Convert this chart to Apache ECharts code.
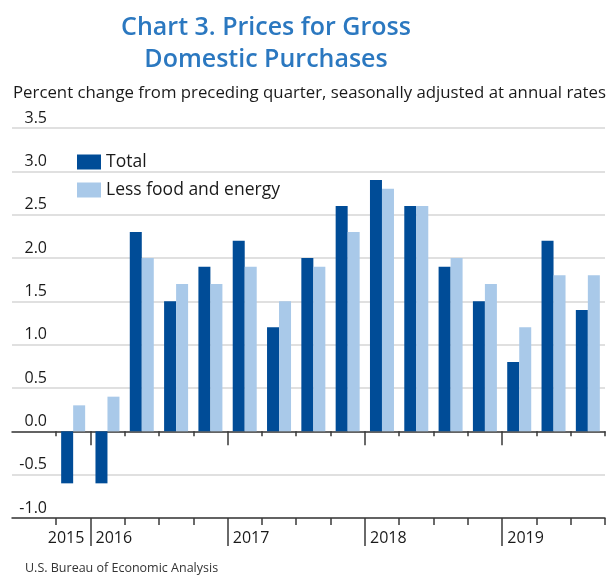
<!DOCTYPE html>
<html>
<head>
<meta charset="UTF-8">
<title>Chart 3. Prices for Gross Domestic Purchases</title>
<script src="https://cdn.jsdelivr.net/npm/echarts@6/dist/echarts.min.js"></script>
<style>
html, body { margin: 0; padding: 0; background: #fff; }
#main { width: 615px; height: 576px; }
</style>
</head>
<body>
<div id="main"></div>
<script type="text/javascript">
// quarters on the chart, one bar pair each
var quarters = ['2015 Q4', '2016 Q1', '2016 Q2', '2016 Q3', '2016 Q4', '2017 Q1', '2017 Q2', '2017 Q3',
                '2017 Q4', '2018 Q1', '2018 Q2', '2018 Q3', '2018 Q4', '2019 Q1', '2019 Q2', '2019 Q3'];
var totalValues = [-0.6, -0.6, 2.3, 1.5, 1.9, 2.2, 1.2, 2.0, 2.6, 2.9, 2.6, 1.9, 1.5, 0.8, 2.2, 1.4];
var lessFoodEnergy = [0.3, 0.4, 2.0, 1.7, 1.7, 1.9, 1.5, 1.9, 2.3, 2.8, 2.6, 2.0, 1.7, 1.2, 1.8, 1.8];
var yTicks = [-1.0, -0.5, 0.0, 0.5, 1.0, 1.5, 2.0, 2.5, 3.0, 3.5];
var seriesNames = ['Total', 'Less food and energy'];

var FONT = 'Open Sans';
var darkBlue = '#004c97';
var lightBlue = '#a9c9e9';

// boundaries between quarters (one more than quarters)
var boundaries = quarters.concat(['end']);

function isYearStart(index) {
	if (index <= 0 || index >= quarters.length) return false;
	return quarters[index].slice(0, 4) !== quarters[index - 1].slice(0, 4);
}

function yearLabel(value, index) {
	if (!isYearStart(index)) return '';
	var y = quarters[index].slice(0, 4);
	if (index === 1) {
		// first year only has one quarter: its label sits left of the divider
		return '{y|' + quarters[0].slice(0, 4) + '}{gap|}{y|' + y + '}';
	}
	return '{pad|}{y|' + y + '}';
}

var yMin = yTicks[0], yMax = yTicks[yTicks.length - 1];
var gridTop = 128, gridBottom = 58;

var myChart = echarts.init(document.getElementById('main'));
var option = {
	animation: false,
	backgroundColor: '#fff',
	title: [{
		text: 'Chart 3. Prices for Gross\nDomestic Purchases',
		left: 261,
		top: 7,
		textAlign: 'center',
		textStyle: { fontFamily: FONT, fontSize: 25, fontWeight: 600, color: '#2b78c0', lineHeight: 32 }
	}, {
		text: 'Percent change from preceding quarter, seasonally adjusted at annual rates',
		left: 8,
		top: 80,
		textStyle: { fontFamily: FONT, fontSize: 16.8, fontWeight: 'normal', color: '#1a1a1a' }
	}, {
		text: 'U.S. Bureau of Economic Analysis',
		left: 20,
		top: 557,
		textStyle: { fontFamily: FONT, fontSize: 12.5, fontWeight: 'normal', color: '#333' }
	}],
	legend: {
		orient: 'vertical',
		left: 72,
		top: 148,
		itemWidth: 24,
		itemHeight: 15,
		itemGap: 10,
		icon: 'rect',
		data: seriesNames,
		textStyle: { fontFamily: FONT, fontSize: 17.5, color: '#1a1a1a' }
	},
	grid: [
		{ left: 12, right: 10, top: gridTop, bottom: gridBottom },
		{ left: 56, right: 10, top: gridTop, bottom: gridBottom }
	],
	yAxis: [{
		gridIndex: 0,
		type: 'value',
		min: yMin, max: yMax, interval: 0.5,
		axisLine: { show: false },
		axisTick: { show: false },
		splitLine: { lineStyle: { color: '#d6d6d6', width: 1.5 } },
		axisLabel: {
			inside: true, margin: 35, align: 'right', verticalAlign: 'bottom',
			padding: [0, 0, 2, 0],
			fontFamily: FONT, fontSize: 16, color: '#1a1a1a',
			formatter: function (v) { return v.toFixed(1); }
		}
	}, {
		gridIndex: 1,
		type: 'value',
		min: yMin, max: yMax, interval: 0.5,
		show: false
	}],
	xAxis: [{
		// zero line across the full width
		gridIndex: 0, type: 'value', min: 0, max: 1, position: 'bottom',
		axisLine: { onZero: true, onZeroAxisIndex: 0, lineStyle: { color: '#3a3a3a', width: 1.5 } },
		axisTick: { show: false }, axisLabel: { show: false }, splitLine: { show: false }
	}, {
		// bottom line across the full width
		gridIndex: 0, type: 'value', min: 0, max: 1, position: 'bottom',
		axisLine: { onZero: false, lineStyle: { color: '#3a3a3a', width: 1.5 } },
		axisTick: { show: false }, axisLabel: { show: false }, splitLine: { show: false }
	}, {
		// bar axis, short ticks on the zero line
		gridIndex: 1, type: 'category', data: quarters, boundaryGap: true, position: 'bottom',
		axisLine: { show: false, onZero: true, onZeroAxisIndex: 1 },
		axisTick: { show: true, interval: 0, length: 5, lineStyle: { color: '#3a3a3a', width: 1.5 } },
		axisLabel: { show: false }
	}, {
		// year dividers on the zero line
		gridIndex: 1, type: 'category', data: boundaries, boundaryGap: false, position: 'bottom',
		axisLine: { show: false, onZero: true, onZeroAxisIndex: 1 },
		axisTick: { show: true, interval: isYearStart, length: 14, lineStyle: { color: '#3a3a3a', width: 1.5 } },
		axisLabel: { show: false }
	}, {
		// short ticks on the bottom line
		gridIndex: 1, type: 'category', data: quarters, boundaryGap: true, position: 'bottom',
		axisLine: { show: false, onZero: false },
		axisTick: { show: true, interval: 0, length: 7, lineStyle: { color: '#3a3a3a', width: 1.5 } },
		axisLabel: { show: false }
	}, {
		// year dividers and year labels on the bottom line
		gridIndex: 1, type: 'category', data: boundaries, boundaryGap: false, position: 'bottom',
		axisLine: { show: false, onZero: false },
		axisTick: { show: true, interval: isYearStart, length: 28, lineStyle: { color: '#3a3a3a', width: 1.5 } },
		axisLabel: {
			interval: 0, margin: 12, align: 'center',
			formatter: yearLabel,
			rich: {
				y: { fontFamily: FONT, fontSize: 16, color: '#1a1a1a', width: 38, align: 'left' },
				gap: { width: 9 },
				pad: { width: 47 }
			}
		}
	}],
	series: [{
		name: seriesNames[0],
		type: 'bar',
		xAxisIndex: 2, yAxisIndex: 1,
		data: totalValues,
		barWidth: 12,
		barGap: '0%',
		itemStyle: { color: darkBlue }
	}, {
		name: seriesNames[1],
		type: 'bar',
		xAxisIndex: 2, yAxisIndex: 1,
		data: lessFoodEnergy,
		barWidth: 12,
		barGap: '0%',
		itemStyle: { color: lightBlue }
	}]
};
myChart.setOption(option);
</script>
</body>
</html>
